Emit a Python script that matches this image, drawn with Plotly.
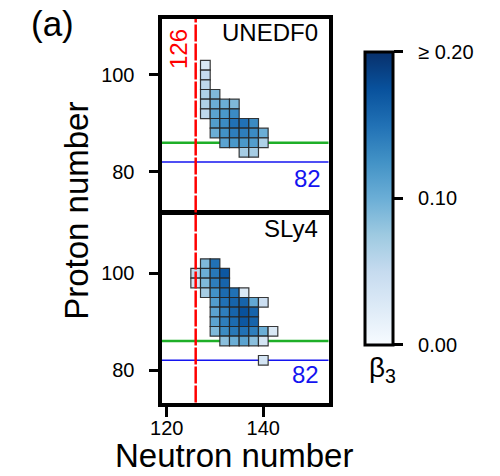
import plotly.graph_objects as go
from plotly.colors import sequential

# ---------------- data ----------------
# UNEDF0 (top panel): neutron number, proton number, beta3
unedf_N = [128, 128, 128, 128, 128, 128,
           130, 130, 130, 130, 130,
           132, 132, 132, 132, 132,
           134, 134, 134, 134, 134,
           136, 136, 136, 136,
           138, 138, 138, 138,
           140, 140]
unedf_Z = [102, 100, 98, 96, 94, 92,
           96, 94, 92, 90, 88,
           94, 92, 90, 88, 86,
           94, 92, 90, 88, 86,
           90, 88, 86, 84,
           90, 88, 86, 84,
           88, 86]
unedf_beta = [0.03, 0.05, 0.055, 0.065, 0.065, 0.055,
              0.09, 0.10, 0.11, 0.115, 0.10,
              0.10, 0.12, 0.13, 0.125, 0.11,
              0.09, 0.13, 0.15, 0.14, 0.12,
              0.15, 0.14, 0.12, 0.07,
              0.13, 0.13, 0.115, 0.07,
              0.10, 0.065]

# SLy4 (bottom panel)
sly4_N = [126, 126,
          128, 128, 128, 128,
          130, 130, 130, 130, 130, 130, 130, 130,
          132, 132, 132, 132, 132, 132, 132, 132,
          134, 134, 134, 134, 134, 134,
          136, 136, 136, 136, 136, 136,
          138, 138, 138, 138, 138,
          140, 140, 140, 140,
          142]
sly4_Z = [100, 98,
          102, 100, 98, 96,
          102, 100, 98, 96, 94, 92, 90, 88,
          100, 98, 96, 94, 92, 90, 88, 86,
          96, 94, 92, 90, 88, 86,
          96, 94, 92, 90, 88, 86,
          94, 92, 90, 88, 86,
          94, 88, 86, 82,
          88]
sly4_beta = [0.055, 0.035,
             0.09, 0.10, 0.09, 0.07,
             0.15, 0.145, 0.14, 0.125, 0.115, 0.11, 0.11, 0.09,
             0.17, 0.16, 0.155, 0.15, 0.14, 0.14, 0.13, 0.085,
             0.15, 0.16, 0.16, 0.155, 0.145, 0.10,
             0.03, 0.16, 0.175, 0.17, 0.15, 0.11,
             0.105, 0.16, 0.16, 0.14, 0.085,
             0.045, 0.10, 0.035, 0.035,
             0.03]

magic_N = 126
magic_Z = 82
green_Z = 86
x_ticks = [120, 140]
y_ticks = [80, 100]
cbar_vals = [0.0, 0.1, 0.2]
cbar_text = ["0.00", "0.10", "≥ 0.20"]

FONT = "Liberation Sans, Arial, sans-serif"
NB = "\u00a0"

fig = go.Figure()

cell_marker = dict(symbol="square", size=9.7, coloraxis="coloraxis",
                   line=dict(color="rgba(35,35,35,0.9)", width=1.2))

fig.add_trace(go.Scatter(x=unedf_N, y=unedf_Z, mode="markers",
                         marker=dict(color=unedf_beta, **cell_marker),
                         xaxis="x", yaxis="y", showlegend=False, hoverinfo="skip"))
fig.add_trace(go.Scatter(x=sly4_N, y=sly4_Z, mode="markers",
                         marker=dict(color=sly4_beta, **cell_marker),
                         xaxis="x2", yaxis="y2", showlegend=False, hoverinfo="skip"))

xdom = [0.323, 0.657]
top_dom = [0.5588, 0.9601]
bot_dom = [0.1544, 0.5483]
xr = [118.92, 153.5]

frame = dict(showline=True, linewidth=4, linecolor="black", mirror=True,
             showgrid=False, zeroline=False, automargin=False)
yticks_style = dict(tickvals=y_ticks, ticks="outside", ticklen=9, tickwidth=3,
                    tickcolor="black", tickfont=dict(size=20), ticklabelstandoff=10)

fig.update_layout(
    template="none",
    width=500, height=476,
    margin=dict(l=0, r=0, t=0, b=0, autoexpand=False),
    paper_bgcolor="white", plot_bgcolor="white",
    font=dict(family=FONT, color="black"),
    xaxis=dict(domain=xdom, range=xr, anchor="y", showticklabels=False, ticks="", **frame),
    yaxis=dict(domain=top_dom, range=[72.08, 111.58], anchor="x", **yticks_style, **frame),
    xaxis2=dict(domain=xdom, range=xr, anchor="y2", tickvals=x_ticks,
                ticks="outside", ticklen=10, tickwidth=3, tickcolor="black",
                tickfont=dict(size=20), ticklabelstandoff=-6, **frame),
    yaxis2=dict(domain=bot_dom, range=[73.28, 112.06], anchor="x2", **yticks_style, **frame),
    coloraxis=dict(
        cmin=0, cmax=0.2, colorscale=sequential.Blues,
        colorbar=dict(x=0.73, xanchor="left", xpad=0, y=0.583, yanchor="middle",
                      len=0.616, lenmode="fraction", ypad=0, thickness=28,
                      outlinewidth=3, outlinecolor="black",
                      ticks="outside", ticklen=9, tickwidth=3, tickcolor="black",
                      tickvals=cbar_vals, ticktext=[NB + NB + t for t in cbar_text],
                      tickfont=dict(size=20, family=FONT)),
    ),
)

shapes = []
for xa, ya in (("x", "y"), ("x2", "y2")):
    shapes.append(dict(type="line", xref=f"{xa} domain", x0=0, x1=1, yref=ya,
                       y0=green_Z, y1=green_Z, layer="below",
                       line=dict(color="rgb(30,175,40)", width=2.5)))
    shapes.append(dict(type="line", xref=f"{xa} domain", x0=0, x1=1, yref=ya,
                       y0=magic_Z, y1=magic_Z, layer="below",
                       line=dict(color="rgb(20,20,240)", width=1.5)))
shapes.append(dict(type="line", xref="x2", x0=magic_N, x1=magic_N, yref="paper",
                   y0=bot_dom[0], y1=top_dom[1], layer="above",
                   line=dict(color="red", width=2.5, dash="17px,2px")))
fig.update_layout(shapes=shapes)

ann = [
    dict(text="(a)", x=0.058, xanchor="left", y=0.951, yanchor="middle", font=dict(size=35)),
    dict(text="126", x=0.356, y=0.897, xanchor="center", yanchor="middle",
         textangle=-90, font=dict(size=24, color="red")),
    dict(text="UNEDF0", x=0.64, xanchor="right", y=0.931, yanchor="middle", font=dict(size=24)),
    dict(text="SLy4", x=0.64, xanchor="right", y=0.521, yanchor="middle", font=dict(size=24)),
    dict(text="82", x=0.646, xanchor="right", y=0.626, yanchor="middle",
         font=dict(size=24, color="rgb(20,20,240)")),
    dict(text="82", x=0.642, xanchor="right", y=0.214, yanchor="middle",
         font=dict(size=24, color="rgb(20,20,240)")),
    dict(text="Proton number", x=0.154, y=0.557, xanchor="center", yanchor="middle",
         textangle=-90, font=dict(size=33)),
    dict(text="Neutron number", x=0.468, y=0.044, xanchor="center", yanchor="middle",
         font=dict(size=33)),
    dict(text="β<sub>3</sub>", x=0.764, y=0.223, xanchor="center", yanchor="middle",
         font=dict(size=28)),
]
for a in ann:
    a.update(xref="paper", yref="paper", showarrow=False)
fig.update_layout(annotations=ann)

fig.write_html("out.html")
